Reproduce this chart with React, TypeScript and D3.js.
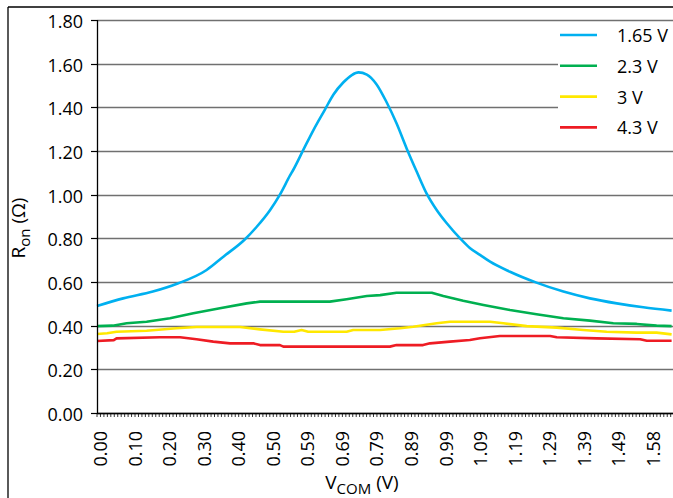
import React from "react";
import * as d3 from "d3";

// ---------- data ----------
const yTickValues = [0, 0.2, 0.4, 0.6, 0.8, 1.0, 1.2, 1.4, 1.6, 1.8];
const xTickLabels = ["0.00", "0.10", "0.20", "0.30", "0.40", "0.50", "0.59", "0.69", "0.79", "0.89", "0.99", "1.09", "1.19", "1.29", "1.39", "1.49", "1.58"];
const categoryStep = 0.0099; // V per category
const labelEvery = 10;

const vcom165 = [0, 0.075, 0.16, 0.233, 0.314, 0.362, 0.424, 0.457, 0.496, 0.524, 0.553, 0.562, 0.591, 0.62, 0.653, 0.677, 0.706, 0.73, 0.749, 0.773, 0.801, 0.83, 0.858, 0.887, 0.916, 0.944, 0.973, 1.002, 1.04, 1.068, 1.097, 1.126, 1.183, 1.259, 1.336, 1.412, 1.489, 1.565, 1.646];
const ron165 = [0.49, 0.525, 0.556, 0.594, 0.655, 0.716, 0.796, 0.852, 0.93, 1.0, 1.088, 1.113, 1.205, 1.296, 1.39, 1.458, 1.515, 1.548, 1.56, 1.55, 1.505, 1.422, 1.327, 1.212, 1.105, 1.006, 0.93, 0.869, 0.8, 0.756, 0.724, 0.693, 0.647, 0.597, 0.556, 0.525, 0.502, 0.484, 0.469];

const vcom23 = [0, 0.045, 0.085, 0.142, 0.209, 0.276, 0.352, 0.429, 0.467, 0.667, 0.715, 0.773, 0.811, 0.858, 0.959, 0.992, 1.049, 1.107, 1.183, 1.259, 1.336, 1.412, 1.479, 1.546, 1.603, 1.646];
const ron23 = [0.398, 0.4, 0.411, 0.418, 0.434, 0.457, 0.48, 0.502, 0.51, 0.51, 0.521, 0.536, 0.54, 0.551, 0.551, 0.536, 0.514, 0.495, 0.472, 0.452, 0.434, 0.423, 0.411, 0.408, 0.4, 0.398];

const vcom3 = [0, 0.029, 0.056, 0.142, 0.228, 0.285, 0.41, 0.467, 0.534, 0.565, 0.586, 0.605, 0.715, 0.734, 0.811, 0.868, 0.906, 0.973, 1.011, 1.126, 1.164, 1.231, 1.317, 1.393, 1.46, 1.546, 1.603, 1.646];
const ron3 = [0.362, 0.365, 0.372, 0.377, 0.388, 0.394, 0.394, 0.383, 0.372, 0.372, 0.38, 0.372, 0.372, 0.38, 0.38, 0.388, 0.395, 0.411, 0.418, 0.418, 0.411, 0.398, 0.391, 0.38, 0.372, 0.368, 0.368, 0.36];

const vcom43 = [0, 0.048, 0.056, 0.18, 0.238, 0.285, 0.333, 0.381, 0.448, 0.467, 0.524, 0.534, 0.839, 0.858, 0.934, 0.954, 1.011, 1.068, 1.097, 1.154, 1.298, 1.317, 1.432, 1.556, 1.575, 1.646];
const ron43 = [0.33, 0.334, 0.342, 0.347, 0.347, 0.338, 0.327, 0.319, 0.319, 0.311, 0.311, 0.304, 0.304, 0.311, 0.311, 0.319, 0.327, 0.334, 0.342, 0.353, 0.353, 0.347, 0.342, 0.338, 0.331, 0.331];

const seriesNames = ["1.65 V", "2.3 V", "3 V", "4.3 V"];
const seriesColors = ["#00B0F0", "#00B050", "#FFE800", "#EE1C24"];
const seriesX = [vcom165, vcom23, vcom3, vcom43];
const seriesY = [ron165, ron23, ron3, ron43];

const FONT = "'Open Sans', 'Noto Sans', sans-serif";

export default function App() {
  const W = 673, H = 498;
  const left = 97, right = 673, top = 20, bottom = 413;
  const x = d3.scaleLinear().domain([0, 1.65]).range([left, right]);
  const y = d3.scaleLinear().domain([0, 1.8]).range([bottom, top]);

  const nCat = Math.floor(1.65 / categoryStep + 1e-9);
  const catTicks = d3.range(0, nCat + 1).map((i) => i * categoryStep);

  const line = d3
    .line<[number, number]>()
    .x((d) => x(d[0]))
    .y((d) => y(d[1]));

  return (
    <svg
      width={W}
      height={H}
      style={{ position: "absolute", left: 0, top: 0, background: "#fff", fontFamily: FONT }}
    >
      <rect x={0} y={0} width={W} height={H} fill="#fff" />
      {/* outer frame */}
      <line x1={8} x2={W} y1={7} y2={7} stroke="#000" strokeWidth={1.3} />
      <line x1={8} x2={8} y1={7} y2={H} stroke="#000" strokeWidth={1.3} />

      {/* gridlines */}
      {yTickValues.map((v) => (
        <line key={"g" + v} x1={left} x2={right} y1={Math.round(y(v)) + 0.5} y2={Math.round(y(v)) + 0.5} stroke="#707070" strokeWidth={1.3} />
      ))}

      {/* series */}
      {seriesX.map((xs, s) => (
        <path
          key={"s" + s}
          d={line.curve(s === 0 ? d3.curveMonotoneX : d3.curveLinear)(xs.map((v, i) => [v, seriesY[s][i]] as [number, number])) || ""}
          fill="none"
          stroke={seriesColors[s]}
          strokeWidth={2.6}
          strokeLinejoin="round"
        />
      ))}

      {/* legend */}
      <rect x={558} y={23} width={W - 558} height={118} fill="#fff" />
      {seriesNames.map((n, i) => {
        const ly = 35 + i * 30.8;
        return (
          <g key={"l" + i}>
            <line x1={560} x2={597} y1={ly} y2={ly} stroke={seriesColors[i]} strokeWidth={2.6} />
            <text x={617} y={ly + 7} fontSize={18} fill="#000">{n}</text>
          </g>
        );
      })}

      {/* axes */}
      <line x1={left + 0.5} x2={left + 0.5} y1={top} y2={bottom + 1} stroke="#000" strokeWidth={1.3} />
      <line x1={left} x2={right} y1={bottom + 0.5} y2={bottom + 0.5} stroke="#000" strokeWidth={1.3} />

      {/* y ticks */}
      {yTickValues.map((v) => (
        <g key={"yt" + v}>
          <line x1={91} x2={left} y1={Math.round(y(v)) + 0.5} y2={Math.round(y(v)) + 0.5} stroke="#000" strokeWidth={1.2} />
          <text x={83} y={y(v) + 8} textAnchor="end" fontSize={18} fill="#000">
            {v.toFixed(2)}
          </text>
        </g>
      ))}

      {/* x category ticks */}
      {catTicks.map((v, i) => (
        <line key={"xt" + i} x1={x(v)} x2={x(v)} y1={bottom} y2={bottom + 4} stroke="#000" strokeWidth={0.8} />
      ))}
      {xTickLabels.map((lab, i) => {
        const px = x(i * labelEvery * categoryStep) + 10;
        const py = 431;
        return (
          <text key={"xl" + i} x={px} y={py} transform={`rotate(-90 ${px} ${py})`} textAnchor="end" fontSize={18} fill="#000">
            {lab}
          </text>
        );
      })}

      {/* axis titles */}
      <text x={362} y={489} textAnchor="middle" fontSize={19} fill="#000">
        V<tspan fontSize={15} dy={5}>COM</tspan>
        <tspan dy={-5}> (V)</tspan>
      </text>
      <text transform="translate(25 228) rotate(-90)" textAnchor="middle" fontSize={19} fill="#000">
        R<tspan fontSize={15} dy={5}>on</tspan>
        <tspan dy={-5}> (Ω)</tspan>
      </text>
    </svg>
  );
}
